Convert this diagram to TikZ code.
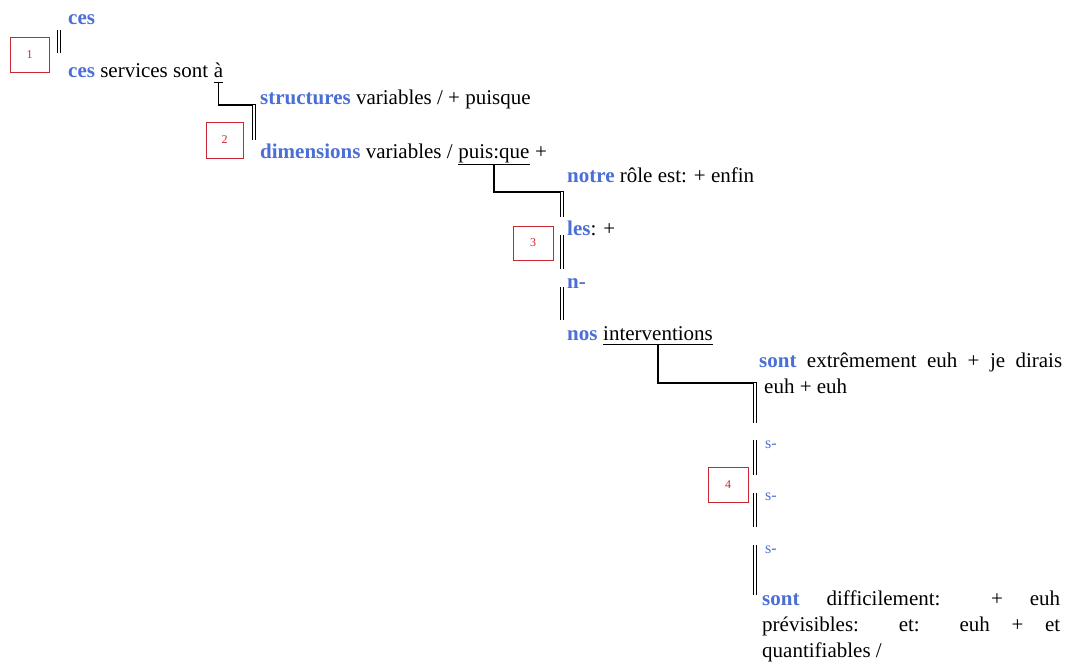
\documentclass[tikz,border=0pt]{standalone}
\usepackage{fontspec}
\setmainfont{Liberation Serif}
\usetikzlibrary{calc}
\definecolor{kwblue}{RGB}{75,110,215}
\definecolor{boxred}{RGB}{200,40,50}
\newcommand{\kw}[1]{\textcolor{kwblue}{\textbf{#1}}}
\begin{document}
\begin{tikzpicture}[x=1pt,y=-1pt,
  txt/.style={anchor=base west,inner sep=0pt,font=\fontsize{21}{25}\selectfont},
  small/.style={anchor=base west,inner sep=0pt,font=\fontsize{16}{18}\selectfont,text=kwblue},
  numbox/.style={draw=boxred,line width=1pt,text=boxred,font=\fontsize{12}{14}\selectfont,minimum width=39pt,minimum height=35pt,inner sep=0pt},
  link/.style={line width=1.3pt},
  uline/.style={line width=1pt},
  dbl/.style={draw,double,double distance=2pt,line width=1.4pt}]
\useasboundingbox[fill=white] (0,0) rectangle (1067,665);

% boxes
\node[numbox] (b1) at (29.5,54.5) {1};
\node[numbox,minimum width=37pt,minimum height=36pt] (b2) at (224.5,140) {2};
\node[numbox,minimum width=40pt,minimum height=34pt] (b3) at (533,243) {3};
\node[numbox,minimum width=40pt] (b4) at (728,484.5) {4};

% level 1
\node[txt] (t1) at (68,24) {\kw{ces}};
\node[txt] (t2) at (68,77) {\kw{ces} services sont};
\node[txt] (u1) at ($(t2.base east)+(5.25,0)$) {à};
\coordinate (d1a) at (59,30);
\coordinate (d1b) at (59,53);
\draw[dbl] (d1a) -- (d1b);
\draw[uline] ([yshift=-5pt]u1.base west) -- ([yshift=-5pt]u1.base east);

% level 2
\node[txt] (t3) at (260,104) {\kw{structures} variables / + puisque};
\node[txt] (t4) at (260,158) {\kw{dimensions} variables /};
\node[txt] (u2) at ($(t4.base east)+(5.25,0)$) {puis:que};
\node[txt] (t4b) at ($(u2.base east)+(5.25,0)$) {+};
\coordinate (d2a) at (254,105);
\coordinate (d2b) at (254,140);
\draw[link] ([yshift=-5pt]u1.base) |- ([xshift=2pt]d2a);
\draw[dbl] (d2a) -- (d2b);
\draw[uline] ([yshift=-6pt]u2.base west) -- ([yshift=-6pt]u2.base east);

% level 3
\node[txt] (t5) at (567,182) {\kw{notre} rôle est: + enfin};
\node[txt] (t6) at (567,235) {\kw{les}: +};
\node[txt] (t7) at (567,288) {\kw{n-}};
\node[txt] (t8) at (567,340) {\kw{nos}};
\node[txt] (u3) at ($(t8.base east)+(5.25,0)$) {interventions};
\coordinate (d3a) at (562,192);
\coordinate (d3b) at (562,217);
\coordinate (d3c) at (562,235);
\coordinate (d3d) at (562,269);
\coordinate (d3e) at (562,287);
\coordinate (d3f) at (562,320);
\draw[link] ([yshift=-6pt]u2.base) |- ([xshift=2pt]d3a);
\draw[dbl] (d3a) -- (d3b);
\draw[dbl] (d3c) -- (d3d);
\draw[dbl] (d3e) -- (d3f);
\draw[uline] ([yshift=-4pt]u3.base west) -- ([yshift=-4pt]u3.base east);

% level 4
\node[txt] (t9) at (759,367) {\makebox[303pt][s]{\kw{sont} extrêmement euh + je dirais}};
\node[txt] (t10) at (764,393) {euh + euh};
\node[small] (s1) at (765,448) {s-};
\node[small] (s2) at (765,500) {s-};
\node[small] (s3) at (765,553) {s-};
\node[txt] (p1) at (762,605) {\makebox[298pt][s]{\kw{sont} difficilement: + euh}};
\node[txt] (p2) at (762,631) {\makebox[298pt][s]{prévisibles: et: euh + et}};
\node[txt] (p3) at (762,657) {quantifiables /};
\coordinate (d4a) at (755,383);
\coordinate (d4b) at (755,423);
\coordinate (d4c) at (755,440);
\coordinate (d4d) at (755,475);
\coordinate (d4e) at (755,493);
\coordinate (d4f) at (755,527);
\coordinate (d4g) at (755,545);
\coordinate (d4h) at (755,595);
\draw[link] ([yshift=-4pt]u3.base) |- ([xshift=2pt]d4a);
\draw[dbl] (d4a) -- (d4b);
\draw[dbl] (d4c) -- (d4d);
\draw[dbl] (d4e) -- (d4f);
\draw[dbl] (d4g) -- (d4h);
\end{tikzpicture}
\end{document}
